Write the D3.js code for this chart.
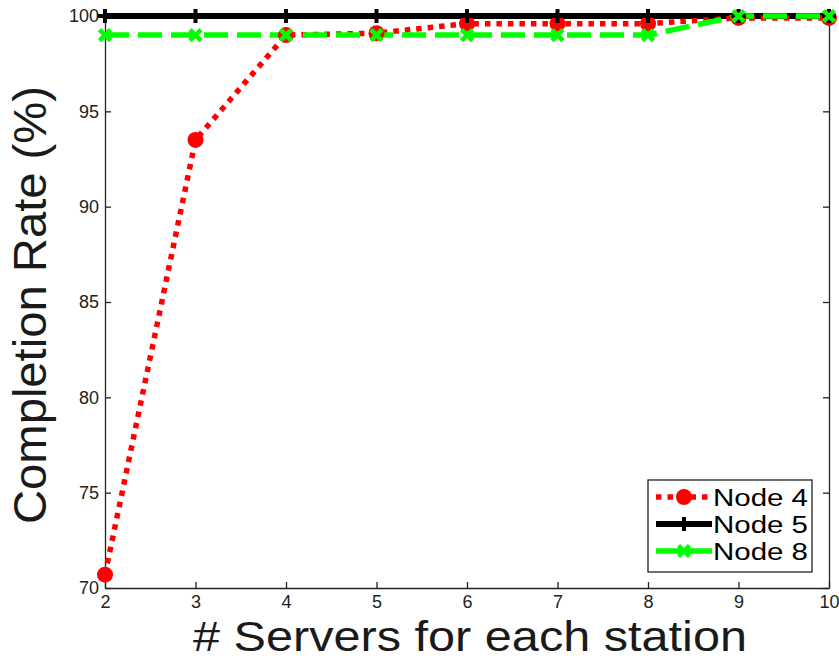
<!DOCTYPE html>
<html>
<head>
<meta charset="utf-8">
<script src="https://cdn.jsdelivr.net/npm/d3@7/dist/d3.min.js"></script>
<style>
  html, body { margin: 0; padding: 0; background: #fff; }
  svg { display: block; font-family: "Liberation Sans", Arial, Helvetica, sans-serif; }
</style>
</head>
<body>
<svg id="chart" width="839" height="661"></svg>
<script>
// Number of servers per station
const servers = [2, 3, 4, 5, 6, 7, 8, 9, 10];
// Completion rate (%) for each node
const node4 = [70.7, 93.5, 99.0, 99.1, 99.6, 99.6, 99.6, 99.9, 99.9];
const node5 = [100, 100, 100, 100, 100, 100, 100, 100, 100];
const node8 = [99.0, 99.0, 99.0, 99.0, 99.0, 99.0, 99.0, 100, 100];
const xTicks = [2, 3, 4, 5, 6, 7, 8, 9, 10];
const yTicks = [70, 75, 80, 85, 90, 95, 100];
const seriesNames = ["Node 4", "Node 5", "Node 8"];

(function draw() {
  const svg = d3.select("#chart");
  const pLeft = 105, pRight = 829, pTop = 16, pBottom = 588;

  const x = d3.scaleLinear().domain([2, 10]).range([pLeft, pRight]);
  const y = d3.scaleLinear().domain([70, 100]).range([pBottom, pTop]);

  const axisColor = "#222";
  const g = svg.append("g");

  // Axes with inward ticks on all four sides
  const tickLen = 6;
  const xb = g.append("g").attr("transform", `translate(0,${pBottom})`)
    .call(d3.axisBottom(x).tickValues(xTicks).tickSizeInner(-tickLen).tickSizeOuter(0).tickPadding(7));
  const yl = g.append("g").attr("transform", `translate(${pLeft},0)`)
    .call(d3.axisLeft(y).tickValues(yTicks).tickSizeInner(-tickLen).tickSizeOuter(0).tickPadding(6));
  const xt = g.append("g").attr("transform", `translate(0,${pTop})`)
    .call(d3.axisTop(x).tickValues(xTicks).tickSizeInner(-tickLen).tickSizeOuter(0).tickFormat(""));
  const yr = g.append("g").attr("transform", `translate(${pRight},0)`)
    .call(d3.axisRight(y).tickValues(yTicks).tickSizeInner(-tickLen).tickSizeOuter(0).tickFormat(""));

  [xb, yl, xt, yr].forEach(a => {
    a.attr("font-size", 18);
    a.selectAll("path.domain").attr("stroke", axisColor).attr("stroke-width", 1.3);
    a.selectAll(".tick line").attr("stroke", axisColor).attr("stroke-width", 1.3);
    a.selectAll(".tick text").attr("fill", "#222").style("font-size", "18px")
      .style("font-family", "'Liberation Sans', Arial, sans-serif");
  });

  // Axis titles
  svg.append("text")
    .attr("x", 470).attr("y", 651)
    .attr("text-anchor", "middle")
    .attr("textLength", 554).attr("lengthAdjust", "spacingAndGlyphs")
    .style("font-size", "42px").attr("fill", "#1a1a1a")
    .text("# Servers for each station");

  svg.append("text")
    .attr("transform", `translate(46,305) rotate(-90)`)
    .attr("text-anchor", "middle")
    .attr("textLength", 438).attr("lengthAdjust", "spacingAndGlyphs")
    .style("font-size", "46px").attr("fill", "#1a1a1a")
    .text("Completion Rate (%)");

  const line = d3.line().x((d, i) => x(servers[i])).y(d => y(d));
  const plot = svg.append("g");

  // Node 5: solid black with plus markers
  plot.append("path").datum(node5).attr("d", line)
    .attr("fill", "none").attr("stroke", "#000").attr("stroke-width", 6);

  // Node 4: red dotted with filled circles
  plot.append("path").datum(node4).attr("d", line)
    .attr("fill", "none").attr("stroke", "#ff0000").attr("stroke-width", 5.5)
    .attr("stroke-dasharray", "5.5,6");

  // Node 8: green dashed with x markers
  plot.append("path").datum(node8).attr("d", line)
    .attr("fill", "none").attr("stroke", "#00ff00").attr("stroke-width", 5.5)
    .attr("stroke-dasharray", "24,9");

  function plusMarker(sel, cx, cy, size, color) {
    sel.append("path")
      .attr("d", `M${cx - size},${cy}H${cx + size}M${cx},${cy - size}V${cy + size}`)
      .attr("stroke", color).attr("stroke-width", 4).attr("fill", "none");
  }
  function xMarker(sel, cx, cy, size, color) {
    sel.append("path")
      .attr("d", `M${cx - size},${cy - size}L${cx + size},${cy + size}M${cx - size},${cy + size}L${cx + size},${cy - size}`)
      .attr("stroke", color).attr("stroke-width", 4.5).attr("fill", "none");
  }

  node4.forEach((v, i) => {
    plot.append("circle").attr("cx", x(servers[i])).attr("cy", y(v)).attr("r", 8).attr("fill", "#ff0000");
  });
  node5.forEach((v, i) => plusMarker(plot, x(servers[i]), y(v), 7, "#000"));
  node8.forEach((v, i) => xMarker(plot, x(servers[i]), y(v), 5.5, "#00ff00"));

  // Legend
  const lg = svg.append("g");
  lg.append("rect").attr("x", 648).attr("y", 480).attr("width", 164).attr("height", 92)
    .attr("fill", "#fff").attr("stroke", "#222").attr("stroke-width", 1.3);
  const ly = [497, 524, 551];
  const lx0 = 656, lx1 = 712, lmid = 684;
  lg.append("line").attr("x1", lx0).attr("x2", lx1).attr("y1", ly[0]).attr("y2", ly[0])
    .attr("stroke", "#ff0000").attr("stroke-width", 5.5).attr("stroke-dasharray", "5.5,6");
  lg.append("circle").attr("cx", lmid).attr("cy", ly[0]).attr("r", 8).attr("fill", "#ff0000");
  lg.append("line").attr("x1", lx0).attr("x2", lx1).attr("y1", ly[1]).attr("y2", ly[1])
    .attr("stroke", "#000").attr("stroke-width", 6);
  plusMarker(lg, lmid, ly[1], 7, "#000");
  lg.append("line").attr("x1", lx0).attr("x2", lx1).attr("y1", ly[2]).attr("y2", ly[2])
    .attr("stroke", "#00ff00").attr("stroke-width", 5.5);
  xMarker(lg, lmid, ly[2], 5.5, "#00ff00");

  seriesNames.forEach((name, i) => {
    lg.append("text").attr("x", 713).attr("y", ly[i] + 8.5)
      .attr("textLength", 95).attr("lengthAdjust", "spacingAndGlyphs")
      .style("font-size", "23px").attr("fill", "#000").text(name);
  });
})();
</script>
</body>
</html>
